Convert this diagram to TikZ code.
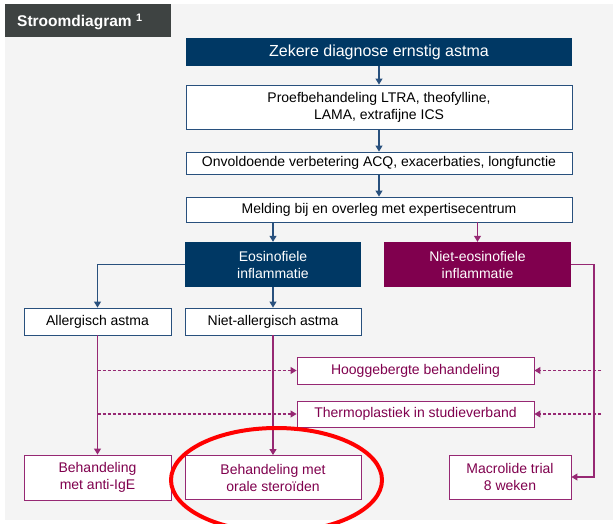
\documentclass[tikz,border=0pt]{standalone}
\usepackage{fontspec}
\setmainfont{Liberation Sans}
\usetikzlibrary{arrows.meta}

\definecolor{navy}{RGB}{0,56,100}
\definecolor{navyline}{RGB}{40,80,125}
\definecolor{plum}{RGB}{128,0,78}
\definecolor{plumline}{RGB}{150,40,115}
\definecolor{panel}{RGB}{244,244,244}
\definecolor{titlegray}{RGB}{62,67,66}

\tikzset{
  box/.style={rectangle, inner sep=0pt, align=center,
    font=\fontsize{14}{17}\selectfont},
  navyfill/.style={box, fill=navy, text=white},
  plumfill/.style={box, fill=plum, text=white},
  navybox/.style={box, fill=white, draw=navyline, line width=0.9pt, text=black},
  plumbox/.style={box, fill=white, draw=plumline, line width=0.9pt, text=plum},
  tip/.style={-{Triangle[length=6pt,width=7pt]}},
  navyarrow/.style={tip, draw=navyline, line width=1.1pt},
  plumarrow/.style={tip, draw=plumline, line width=1.1pt},
  dasharrow/.style={tip, draw=plumline, line width=1.1pt, dash pattern=on 3pt off 2pt},
  ring/.style={draw=red, line width=4pt},
}

\begin{document}
\begin{tikzpicture}[x=1pt,y=-1pt]
\useasboundingbox (0,0) rectangle (613,524);
\fill[white] (0,0) rectangle (613,524);
\fill[panel] (5,4) rectangle (613,520);

% title tab
\fill[titlegray] (5,4) rectangle (171,37);
\node[anchor=base west, inner sep=0pt, text=white,
  font=\fontsize{15.5}{18}\selectfont\bfseries] (title) at (17,27)
  {Stroomdiagram \textsuperscript{1}};

% main column
\node[navyfill, minimum width=386pt, minimum height=28pt, font=\fontsize{16}{19}\selectfont] (zekere) at (379,52) {Zekere diagnose ernstig astma};
\node[navybox, minimum width=386pt, minimum height=44pt] (proef) at (379,107) {Proefbehandeling LTRA, theofylline,\\LAMA, extrafijne ICS};
\node[navybox, minimum width=386pt, minimum height=22pt] (onvol) at (379,163) {Onvoldoende verbetering ACQ, exacerbaties, longfunctie};
\node[navybox, minimum width=386pt, minimum height=25pt] (melding) at (379,209.5) {Melding bij en overleg met expertisecentrum};

% inflammation split
\node[navyfill, minimum width=176pt, minimum height=45pt] (eos) at (273,264.5) {Eosinofiele\\inflammatie};
\node[plumfill, minimum width=187pt, minimum height=45pt] (neos) at (477.5,264.5) {Niet-eosinofiele\\inflammatie};

\node[navybox, minimum width=147pt, minimum height=27pt] (aller) at (97.5,321.5) {Allergisch astma};
\node[navybox, minimum width=176pt, minimum height=27pt] (naller) at (273,321.5) {Niet-allergisch astma};

% shared options
\node[plumbox, minimum width=237pt, minimum height=27pt] (hoog) at (415.5,370.5) {Hooggebergte behandeling};
\node[plumbox, minimum width=237pt, minimum height=26pt] (thermo) at (415.5,414) {Thermoplastiek in studieverband};

% treatments
\node[plumbox, minimum width=147pt, minimum height=45pt] (antiige) at (97.5,477.5) {Behandeling\\met anti-IgE};
\node[plumbox, minimum width=176pt, minimum height=44pt] (orale) at (273,477.5) {Behandeling met\\orale steroïden};
\node[plumbox, minimum width=122pt, minimum height=44pt] (macro) at (510,477) {Macrolide trial\\8 weken};

% helper points on the right-hand trunk
\coordinate (rbend) at (594,264.5);
\coordinate (rhoog) at (601,370.5);
\coordinate (rthermo) at (601,414);

% main column arrows
\draw[navyarrow] (zekere) -- (proef);
\draw[navyarrow] (proef) -- (onvol);
\draw[navyarrow] (onvol) -- (melding);
\draw[navyarrow] (melding.south -| eos.north) -- (eos.north);
\draw[plumarrow] (melding.south -| neos.north) -- (neos.north);

% eosinophilic branches
\draw[navyarrow] (eos.west) -| (aller.north);
\draw[navyarrow] (eos) -- (naller);
\draw[plumarrow] (aller) -- (antiige);
\draw[plumarrow] (naller) -- (orale);

% non-eosinophilic branch
\draw[plumarrow] (neos.east) -- (rbend) |- (macro.east);

% dashed links to shared options
\draw[dasharrow] (aller.south |- hoog.west) -- (hoog.west);
\draw[dasharrow] (aller.south |- thermo.west) -- (thermo.west);
\draw[dasharrow] (rhoog) -- (hoog.east);
\draw[dasharrow] (rthermo) -- (thermo.east);

% highlight ring
\draw[ring] (276.5,480) ellipse [x radius=105.5pt, y radius=52pt];
\end{tikzpicture}
\end{document}
